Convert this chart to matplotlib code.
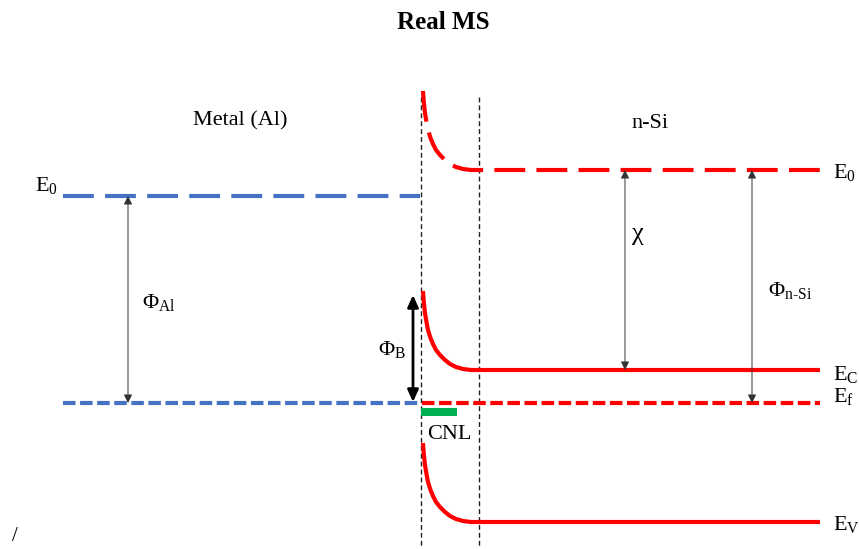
import matplotlib
matplotlib.use('Agg')
import matplotlib.pyplot as plt

# 字体设置
plt.rcParams['font.family'] = ['Liberation Serif', 'DejaVu Serif']
plt.rcParams['mathtext.fontset'] = 'custom'
plt.rcParams['mathtext.rm'] = 'Liberation Serif'
plt.rcParams['mathtext.it'] = 'Liberation Serif:italic'

# 能级数据（图中纵向位置，向下为正）
metal_x = [63, 420]
metal_E0 = 196
metal_Ef = 403
junction_x = [421, 479]          # 界面区域的两条虚线
si_start = 423
si_end = 820
si_E0 = 170
si_Ec = 370
si_Ef = 403
si_Ev = 522
cnl_x = [421, 457]
cnl_y = 412

# 能带弯曲形状（从界面起的水平距离 / 相对表面的下降量）
bend_dx = [0, 0.3, 1, 2, 3.5, 5, 7.5, 10, 13, 17, 22, 27, 33, 40, 48, 56]
bend_drop = [0, 5, 13, 22, 31, 39, 47, 53, 59, 64, 69, 73, 76, 78, 79, 79]
bend_depth = 79

# 箭头：(x, 上端, 下端)
arrow_phi_al = (128, metal_E0, metal_Ef)
arrow_phi_b = (413, 295, 402)
arrow_chi = (625, si_E0, si_Ec)
arrow_phi_si = (752, si_E0, si_Ef)

blue = '#4472C4'
red = '#FF0000'
green = '#00B050'

fig = plt.figure(figsize=(8.59, 5.49), dpi=100)
ax = fig.add_axes([0, 0, 1, 1])
ax.set_xlim(0, 859)
ax.set_ylim(549, 0)
ax.axis('off')


def band(level, **kw):
    xs = [si_start + d for d in bend_dx] + [si_end]
    ys = [level - bend_depth + d for d in bend_drop] + [level]
    ax.plot(xs, ys, **kw)


# 金属侧
ax.plot(metal_x, [metal_E0] * 2, color=blue, lw=3, dashes=(7.4, 2.7))
ax.plot(metal_x, [metal_Ef] * 2, color=blue, lw=3, dashes=(3.0, 1.1))

# 界面虚线
for jx in junction_x:
    ax.plot([jx, jx], [97, 546], color='#222222', lw=1, dashes=(3.5, 2.2))

# 半导体侧
band(si_E0, color=red, lw=3, dashes=(7.4, 2.7))
band(si_Ec, color=red, lw=3, solid_capstyle='butt')
band(si_Ev, color=red, lw=3, solid_capstyle='butt')
ax.plot([junction_x[0] + 1, si_end], [si_Ef] * 2, color=red, lw=3, dashes=(3.0, 1.1))

# CNL
ax.plot(cnl_x, [cnl_y] * 2, color=green, lw=5.8, solid_capstyle='butt')

# 箭头
for (ax_x, y0, y1) in [arrow_phi_al, arrow_chi, arrow_phi_si]:
    ax.annotate('', xy=(ax_x, y1), xytext=(ax_x, y0),
                arrowprops=dict(arrowstyle='<|-|>,head_length=0.5,head_width=0.25',
                                color='#333333', lw=0.7, mutation_scale=10,
                                shrinkA=0, shrinkB=0))
ax.annotate('', xy=(arrow_phi_b[0], arrow_phi_b[2]), xytext=(arrow_phi_b[0], arrow_phi_b[1]),
            arrowprops=dict(arrowstyle='<|-|>,head_length=0.6,head_width=0.27',
                            color='black', lw=2, mutation_scale=12,
                            shrinkA=0, shrinkB=0))

# 文字
fs = 16
ax.text(443, 29, 'Real MS', ha='center', va='baseline', fontsize=18, fontweight='bold')
ax.text(240, 125, 'Metal (Al)', ha='center', va='baseline', fontsize=fs)
ax.text(650, 128, 'n-Si', ha='center', va='baseline', fontsize=fs)
ax.text(35, 191, r'$\mathrm{E}_{\mathrm{0}}$', va='baseline', fontsize=fs)
ax.text(833, 178, r'$\mathrm{E}_{\mathrm{0}}$', va='baseline', fontsize=fs)
ax.text(833, 380, r'$\mathrm{E}_{\mathrm{C}}$', va='baseline', fontsize=fs)
ax.text(833, 402, r'$\mathrm{E}_{\mathrm{f}}$', va='baseline', fontsize=fs)
ax.text(833, 530, r'$\mathrm{E}_{\mathrm{V}}$', va='baseline', fontsize=fs)
ax.text(142, 308, r'$\mathrm{Φ}_{\mathrm{Al}}$', va='baseline', fontsize=fs)
ax.text(378, 355, r'$\mathrm{Φ}_{\mathrm{B}}$', va='baseline', fontsize=fs)
ax.text(632, 240, 'χ', va='baseline', fontsize=19)
ax.text(768, 296, r'$\mathrm{Φ}_{\text{n-Si}}$', va='baseline', fontsize=fs)
ax.text(427, 439, 'CNL', va='baseline', fontsize=fs)
ax.text(12, 541, '/', va='baseline', fontsize=15)

fig.savefig('out.png', dpi=100)
plt.close(fig)
